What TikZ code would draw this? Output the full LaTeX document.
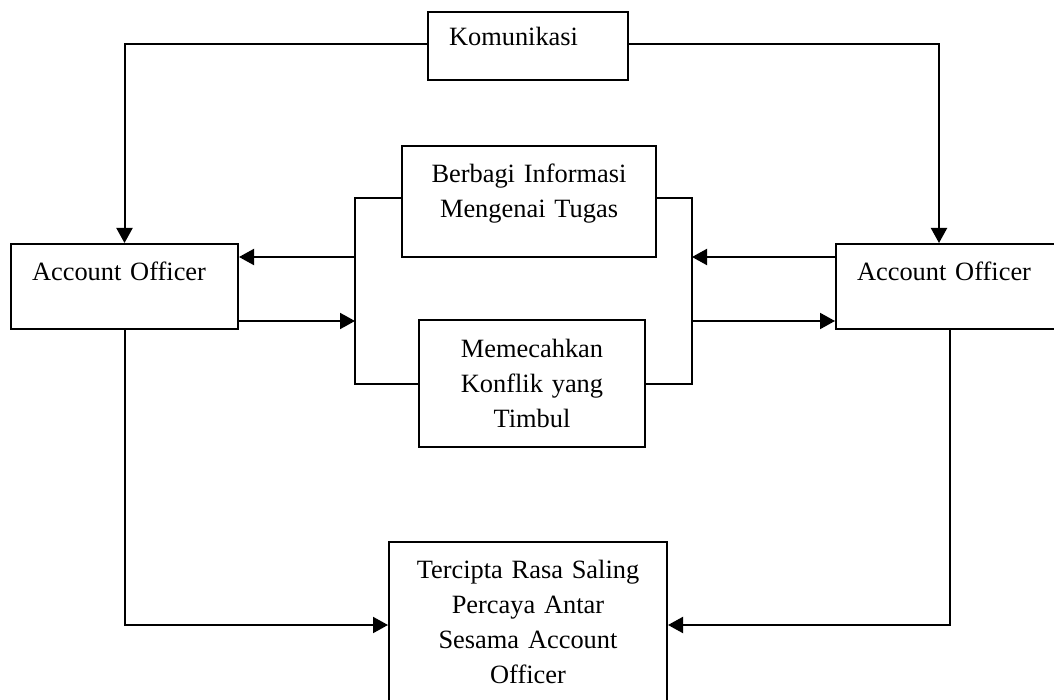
\documentclass[tikz,border=0pt]{standalone}
\usepackage{fontspec}
\setmainfont{Liberation Serif}
\usetikzlibrary{arrows.meta}

\tikzset{
  box/.style={draw, line width=2pt, inner sep=0pt, align=center,
    font=\fontsize{26.4}{35}\selectfont, text height=18pt},
  wire/.style={line width=2pt},
  arr/.style={line width=2pt, -{Triangle[length=15pt,width=16pt]}}
}

\begin{document}
\begin{tikzpicture}[x=1pt,y=-1pt]
  \useasboundingbox (0,0) rectangle (1054,700);
  % boxes
  \node[box, minimum width=200pt, minimum height=68pt, text width=158pt,
        align=left, text depth=18pt] (kom) at (528,46) {Komunikasi};
  \node[box, minimum width=227pt, minimum height=85pt, text width=185pt,
        align=left, text depth=29pt] (aoL) at (124.5,286.5) {Account Officer};
  \node[box, minimum width=227pt, minimum height=85pt, text width=185pt,
        align=left, text depth=29pt] (aoR) at (949.5,286.5) {Account Officer};
  \node[box, minimum width=254pt, minimum height=111pt, text width=230pt,
        text depth=55pt] (info) at (529,201.5) {Berbagi Informasi\\Mengenai Tugas};
  \node[box, minimum width=226pt, minimum height=127pt, text width=200pt,
        text depth=71pt] (konf) at (532,383.5) {Memecahkan\\Konflik yang\\Timbul};
  \node[box, minimum width=278pt, minimum height=200pt, text width=260pt,
        text depth=146pt] (hasil) at (528,642)
        {Tercipta Rasa Saling\\Percaya Antar\\Sesama Account\\Officer};
  % helper points
  \coordinate (jL) at (355,198);
  \coordinate (jR) at (692,198);
  \coordinate (upper) at (0,257);
  \coordinate (lower) at (0,321);
  \coordinate (bottom) at (0,625);
  % komunikasi to both officers
  \draw[arr] ([yshift=2pt]kom.west) -| (aoL.north);
  \draw[arr] ([yshift=2pt]kom.east) -| ([xshift=-10.5pt]aoR.north);
  % brackets round the two middle boxes
  \draw[wire] (info.west |- jL) -- (jL) -- (jL |- konf.west) -- (konf.west);
  \draw[wire] (info.east |- jR) -- (jR) -- (jR |- konf.east) -- (konf.east);
  % exchange arrows
  \draw[arr] (jL |- upper) -- (aoL.east |- upper);
  \draw[arr] (aoL.east |- lower) -- (jL |- lower);
  \draw[arr] (aoR.west |- upper) -- (jR |- upper);
  \draw[arr] (jR |- lower) -- (aoR.west |- lower);
  % down to the result
  \draw[arr] (aoL.south) |- (hasil.west |- bottom);
  \draw[arr] (aoR.south) |- (hasil.east |- bottom);
\end{tikzpicture}
\end{document}
